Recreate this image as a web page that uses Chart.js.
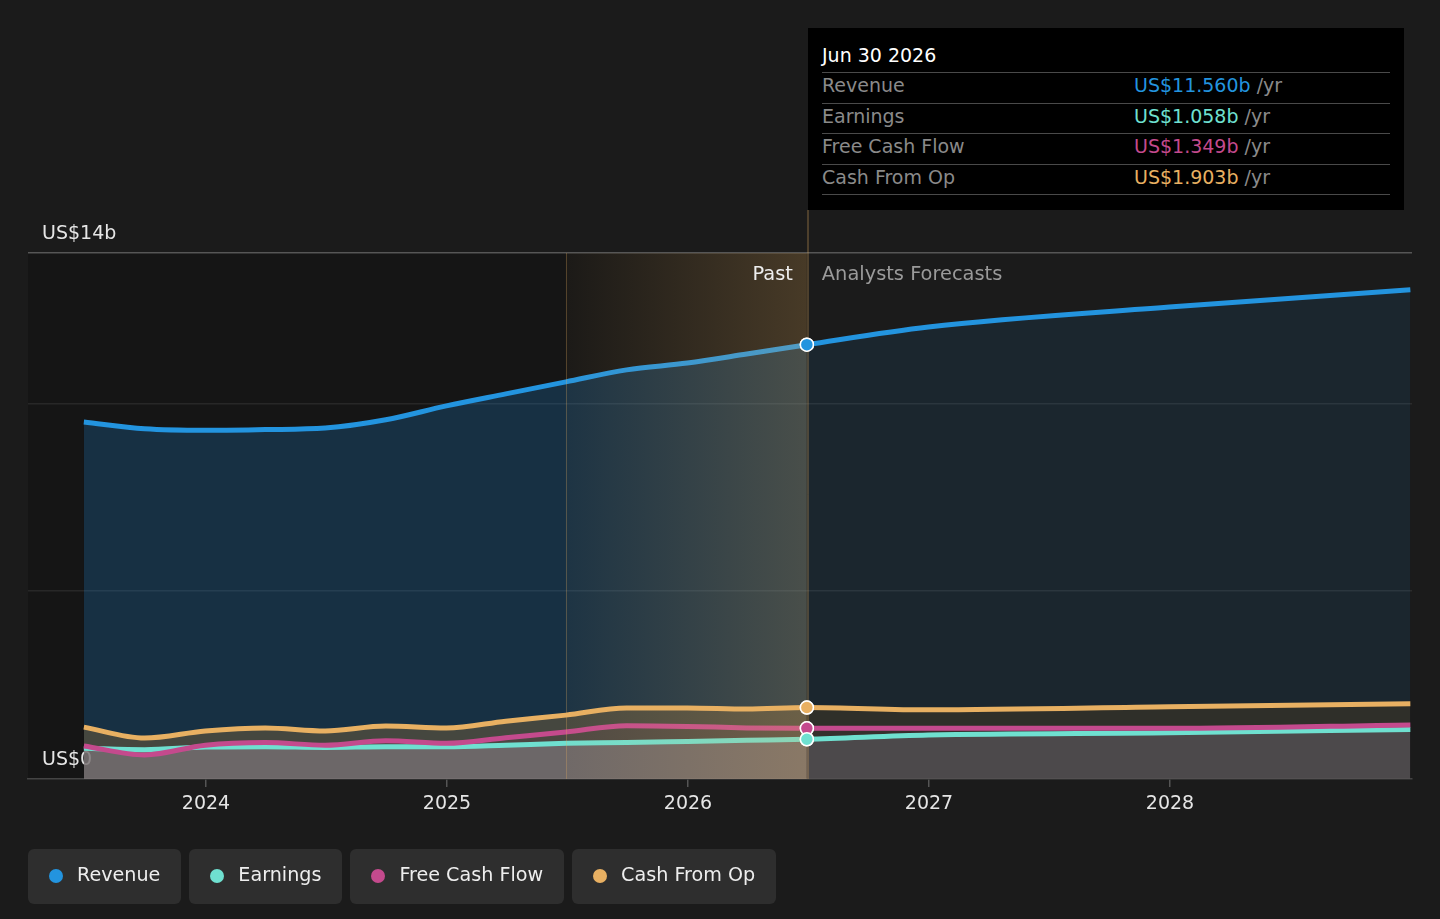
<!DOCTYPE html>
<html><head><meta charset="utf-8">
<script src="https://cdn.jsdelivr.net/npm/chart.js@4.4.1/dist/chart.umd.min.js"></script>
<style>
html,body{margin:0;padding:0;background:#1b1b1b;width:1440px;height:919px;overflow:hidden;font-family:"DejaVu Sans",sans-serif;}
#wrap{position:absolute;left:0;top:0;width:1440px;height:919px;}
#tip{position:absolute;left:808px;top:28px;width:596px;height:182px;background:#000;color:#8a8a8a;font-size:19px;}
#tip .title{position:absolute;left:14px;top:14px;color:#fff;line-height:26px;}
#tip .row{position:absolute;left:14px;width:568px;height:30px;border-top:1.5px solid #4a4a4a;line-height:25px;}
#tip .row .v{position:absolute;left:312px;top:0;}
#tip .last{position:absolute;left:14px;width:568px;top:166px;border-top:1.5px solid #4a4a4a;}
#legend{position:absolute;left:28px;top:849px;display:flex;gap:8px;}
.item{box-sizing:border-box;height:55px;background:#2e2e2e;border-radius:6px;display:flex;align-items:center;padding:0 21px 5px 21px;color:#eee;font-size:19.15px;}
.dot{width:14px;height:14px;border-radius:50%;margin-right:14px;margin-top:3px;}
</style></head>
<body>
<div id="wrap"><canvas id="c" width="1440" height="919"></canvas></div>
<div id="tip"></div>
<div id="legend"></div>
<script>
const dates = ["2023-06-30","2023-09-30","2023-12-31","2024-03-31","2024-06-30","2024-09-30","2024-12-31","2025-03-31","2025-06-30","2025-09-30","2025-12-31","2026-03-31","2026-06-30","2026-12-31","2027-12-31","2028-12-31"];
const revenue      = [9.50,9.32,9.28,9.30,9.34,9.56,9.93,10.25,10.57,10.89,11.07,11.31,11.560,12.03,12.56,13.02];
const earnings     = [0.82,0.78,0.85,0.86,0.84,0.86,0.86,0.90,0.95,0.97,1.00,1.03,1.058,1.17,1.23,1.32];
const freeCashFlow = [0.88,0.64,0.90,0.97,0.90,1.02,0.95,1.10,1.25,1.42,1.40,1.36,1.349,1.35,1.35,1.44];
const cashFromOp   = [1.38,1.09,1.28,1.36,1.28,1.41,1.36,1.54,1.70,1.89,1.89,1.86,1.903,1.84,1.92,2.00];
const seriesNames  = ["Revenue","Earnings","Free Cash Flow","Cash From Op"];
const seriesColors = ["#2394df","#6fe0d0","#c44a8d","#e8b062"];
const yTicks = [0,5,10,14];
const xTicks = [2024,2025,2026,2027,2028];
const pastEndDate = "2026-06-30";
const bandStartDate = "2025-06-30";
const xMin = 2023.2614, xMax = 2029.0041;

function toYear(s){const d=Date.parse(s+"T00:00:00Z");const y=+s.slice(0,4);const a=Date.UTC(y,0,1),b=Date.UTC(y+1,0,1);return y+(d-a)/(b-a);}
const pastEnd = dates.indexOf(pastEndDate);
const pts = arr => arr.map((v,i)=>({x:toYear(dates[i]),y:v}));

let chartRef=null;
const gcache={};
function vgrad(key,c0,c1,v0,v1){
  if(!chartRef||!chartRef.chartArea||!chartRef.scales.y) return c0;
  if(gcache[key]) return gcache[key];
  const y=chartRef.scales.y;
  const g=chartRef.ctx.createLinearGradient(0,y.getPixelForValue(v0),0,y.getPixelForValue(v1));
  g.addColorStop(0,c0);g.addColorStop(1,c1);
  return gcache[key]=g;
}
function segFill(key,v0,past0,past1,fc0,fc1){
  return ctx => ctx.p0DataIndex>=pastEnd ? vgrad(key+'f',fc0,fc1,v0,0) : vgrad(key+'p',past0,past1,v0,0);
}
function mk(name,arr,color,order,fill){
  return {label:name,data:pts(arr),borderColor:color,backgroundColor:color,borderWidth:5,
    fill:'origin',order,cubicInterpolationMode:'monotone',
    pointRadius:c=>c.dataIndex===pastEnd?6.5:0,pointHoverRadius:0,
    pointBackgroundColor:color,pointBorderColor:'#fff',pointBorderWidth:1.5,
    segment:{backgroundColor:fill}};
}
const datasets=[
  mk(seriesNames[2],freeCashFlow,seriesColors[2],1,segFill('p',1.4,'rgba(196,74,141,0.05)','rgba(196,74,141,0.03)','rgba(196,74,141,0.04)','rgba(196,74,141,0.03)')),
  mk(seriesNames[1],earnings,seriesColors[1],2,segFill('e',1.1,'rgba(129,128,130,0.6)','rgba(79,81,87,0.6)','rgba(88,91,93,0.6)','rgba(57,60,62,0.6)')),
  mk(seriesNames[3],cashFromOp,seriesColors[3],3,segFill('o',1.9,'rgba(115,94,59,0.5)','rgba(100,86,60,0.5)','rgba(68,56,36,0.5)','rgba(60,54,40,0.5)')),
  mk(seriesNames[0],revenue,seriesColors[0],4,segFill('r',12,'rgba(33,150,243,0.21)','rgba(33,150,243,0.13)','rgba(33,150,243,0.09)','rgba(33,150,243,0.06)')),
];

const bgPlugin={id:'bg',
  beforeDraw(ch){const {ctx,chartArea:a,scales:{x}}=ch;ctx.save();
    ctx.fillStyle='#1b1b1b';ctx.fillRect(0,0,ch.width,ch.height);
    const xp=x.getPixelForValue(toYear(pastEndDate));
    ctx.fillStyle='#151515';ctx.fillRect(a.left,a.top,xp-a.left,a.bottom-a.top);
    ctx.restore();},
  afterDatasetsDraw(ch){const {ctx,chartArea:a,scales:{x}}=ch;ctx.save();
    const xp=x.getPixelForValue(toYear(pastEndDate));
    const xb=x.getPixelForValue(toYear(bandStartDate));
    const g=ctx.createLinearGradient(xb,0,xp,0);
    g.addColorStop(0,'rgba(232,176,96,0.03)');g.addColorStop(1,'rgba(232,176,96,0.24)');
    ctx.fillStyle=g;ctx.fillRect(xb,a.top,xp-xb,a.bottom-a.top);
    ctx.strokeStyle='rgba(232,176,96,0.28)';ctx.lineWidth=1;
    ctx.beginPath();ctx.moveTo(Math.round(xb)+0.5,a.top);ctx.lineTo(Math.round(xb)+0.5,a.bottom);ctx.stroke();
    ctx.strokeStyle='rgba(232,176,96,0.5)';
    ctx.beginPath();ctx.moveTo(Math.round(xp)+1,210);ctx.lineTo(Math.round(xp)+1,a.bottom);ctx.stroke();
    ch.getSortedVisibleDatasetMetas().forEach(m=>{const p=m.data[pastEnd];if(p)p.draw(ctx,a);});
    ctx.font='19.4px "DejaVu Sans"';ctx.textBaseline='middle';
    ctx.fillStyle='#eeeeee';ctx.textAlign='right';ctx.fillText('Past',xp-14,a.top+22);
    ctx.fillStyle='#9a9a9a';ctx.textAlign='left';ctx.fillText('Analysts Forecasts',xp+15,a.top+22);
    ctx.restore();}
};

chartRef=new Chart(document.getElementById('c'),{
  type:'line',
  data:{datasets},
  plugins:[bgPlugin],
  options:{responsive:false,animation:false,
    layout:{padding:{left:28,right:28,top:253,bottom:0}},
    plugins:{legend:{display:false},tooltip:{enabled:false},filler:{drawTime:'beforeDatasetsDraw'}},
    scales:{
      x:{type:'linear',min:xMin,max:xMax,
        afterBuildTicks:s=>{s.ticks=xTicks.map(v=>({value:v}));},
        afterFit:s=>{s.height=140;},
        grid:{drawOnChartArea:false,drawTicks:true,tickLength:8,color:'#555',lineWidth:1.5},
        border:{display:true,color:'#444',width:1.5},
        ticks:{color:'#e6e6e6',font:{family:'DejaVu Sans',size:19},padding:6,maxRotation:0,callback:v=>String(v)}},
      y:{type:'linear',min:0,max:14,
        afterBuildTicks:s=>{s.ticks=yTicks.map(v=>({value:v}));},
        afterFit:s=>{s.width=0;},
        grid:{drawTicks:false,color:c=>c.tick.value===14?'rgba(255,255,255,0.26)':(c.tick.value===0?'rgba(0,0,0,0)':'rgba(255,255,255,0.08)'),lineWidth:1.5},
        border:{display:false},
        ticks:{mirror:true,padding:14,labelOffset:-19,color:'#e6e6e6',font:{family:'DejaVu Sans',size:19},
          callback:v=>(v===yTicks[0]?'US$'+v:(v===yTicks[yTicks.length-1]?'US$'+v+'b':''))}}
    }
  }
});

const mon=['Jan','Feb','Mar','Apr','May','Jun','Jul','Aug','Sep','Oct','Nov','Dec'];
const pd=new Date(pastEndDate+"T00:00:00Z");
const tipVals=[revenue,earnings,freeCashFlow,cashFromOp];
let html='<div class="title">'+mon[pd.getUTCMonth()]+' '+pd.getUTCDate()+' '+pd.getUTCFullYear()+'</div>';
tipVals.forEach((arr,k)=>{
  html+='<div class="row" style="top:'+(44+k*30.7)+'px">'+seriesNames[k]+
    '<span class="v"><span style="color:'+seriesColors[k]+'">US$'+arr[pastEnd].toFixed(3)+'b</span> /yr</span></div>';
});
html+='<div class="last"></div>';
document.getElementById('tip').innerHTML=html;
document.getElementById('legend').innerHTML=seriesNames.map((n,i)=>'<div class="item"><span class="dot" style="background:'+seriesColors[i]+'"></span>'+n+'</div>').join('');
</script>
</body></html>
